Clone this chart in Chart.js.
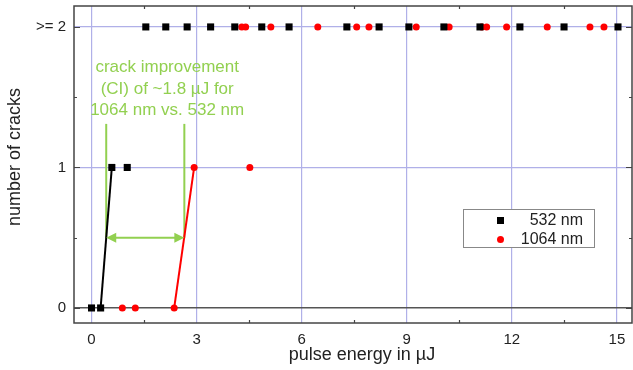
<!DOCTYPE html>
<html>
<head>
<meta charset="utf-8">
<script src="https://cdn.jsdelivr.net/npm/chart.js@4.4.0/dist/chart.umd.min.js"></script>
<style>
  html, body { margin: 0; padding: 0; background: #fff; }
  #wrap { width: 633px; height: 370px; }
</style>
</head>
<body>
<div id="wrap"><canvas id="c" width="633" height="370"></canvas></div>
<script>
// measured points, pulse energy (µJ) vs. number of cracks (2 = ">= 2")
var energy532 = [0.00, 0.26, 0.58, 1.02, 1.55, 2.12, 2.73, 3.40, 4.09, 4.86, 5.64, 7.29, 8.21, 9.06, 10.06, 11.09, 12.23, 13.49, 15.03];
var cracks532 = [0, 0, 1, 1, 2, 2, 2, 2, 2, 2, 2, 2, 2, 2, 2, 2, 2, 2, 2];
var energy1064 = [0.88, 1.25, 2.36, 2.93, 4.52, 4.29, 4.40, 5.12, 6.46, 7.57, 7.92, 9.27, 10.21, 11.14, 11.28, 11.85, 13.01, 14.23, 14.63];
var cracks1064 = [0, 0, 0, 1, 1, 2, 2, 2, 2, 2, 2, 2, 2, 2, 2, 2, 2, 2, 2];

// threshold lines (0 -> 1 crack)
var fit532X = [0.26, 0.58];
var fit1064X = [2.36, 2.93];
var fitY = [0, 1];

// crack improvement annotation
var ciX = [0.42, 2.65];
var ciY = [0.5, 1.31];
var ciText = ['crack improvement', '(CI) of ~1.8 µJ for', '1064 nm vs. 532 nm'];
var ciTextX = 2.16;
var ciTextY = [1.715, 1.559, 1.409];

var xTicks = [0, 3, 6, 9, 12, 15];
var xMinorTicks = [1.5, 4.5, 7.5, 10.5, 13.5];
var yTicks = [0, 1, 2];
var yTickLabels = ['0', '1', '>= 2'];
var yMinorTicks = [0.5, 1.5];

var FONT = "'Liberation Sans', Arial, sans-serif";
var GREEN = '#92d050';
var GRID = '#b0b0e8';

function pts(xs, ys) {
	return xs.map(function(x, i) { return {x: x, y: ys[i]}; });
}

var framePlugin = {
	id: 'frame',
	beforeDatasetsDraw: function(chart) {
		var ctx = chart.ctx, xs = chart.scales.x, ys = chart.scales.y;
		ctx.save();
		// green threshold markers
		ctx.strokeStyle = GREEN;
		ctx.lineWidth = 2;
		ciX.forEach(function(v) {
			var px = xs.getPixelForValue(v);
			ctx.beginPath();
			ctx.moveTo(px, ys.getPixelForValue(ciY[0]));
			ctx.lineTo(px, ys.getPixelForValue(ciY[1]));
			ctx.stroke();
		});
		ctx.restore();
	},
	afterDatasetsDraw: function(chart) {
		var ctx = chart.ctx, xs = chart.scales.x, ys = chart.scales.y;
		var a = chart.chartArea;
		ctx.save();

		// double arrow
		var x1 = xs.getPixelForValue(ciX[0]), x2 = xs.getPixelForValue(ciX[1]);
		var ay = ys.getPixelForValue(ciY[0]);
		ctx.strokeStyle = GREEN;
		ctx.fillStyle = GREEN;
		ctx.lineWidth = 2;
		ctx.beginPath();
		ctx.moveTo(x1 + 6, ay);
		ctx.lineTo(x2 - 6, ay);
		ctx.stroke();
		ctx.beginPath();
		ctx.moveTo(x1, ay); ctx.lineTo(x1 + 10, ay - 5); ctx.lineTo(x1 + 10, ay + 5); ctx.closePath();
		ctx.moveTo(x2, ay); ctx.lineTo(x2 - 10, ay - 5); ctx.lineTo(x2 - 10, ay + 5); ctx.closePath();
		ctx.fill();

		// annotation text
		ctx.font = '17px ' + FONT;
		ctx.textAlign = 'center';
		ctx.textBaseline = 'middle';
		ciText.forEach(function(t, i) {
			ctx.fillText(t, xs.getPixelForValue(ciTextX), ys.getPixelForValue(ciTextY[i]));
		});

		// frame + inward ticks
		ctx.strokeStyle = '#444';
		ctx.lineWidth = 1.5;
		ctx.strokeRect(a.left, a.top, a.right - a.left, a.bottom - a.top);
		ctx.lineWidth = 1.2;
		ctx.beginPath();
		xMinorTicks.forEach(function(v) {
			var px = Math.round(xs.getPixelForValue(v)) + 0.5;
			ctx.moveTo(px, a.bottom); ctx.lineTo(px, a.bottom - 3);
			ctx.moveTo(px, a.top); ctx.lineTo(px, a.top + 3);
		});
		yMinorTicks.forEach(function(v) {
			var py = Math.round(ys.getPixelForValue(v)) + 0.5;
			ctx.moveTo(a.left, py); ctx.lineTo(a.left + 3, py);
			ctx.moveTo(a.right, py); ctx.lineTo(a.right - 3, py);
		});
		yTicks.forEach(function(v) {
			var py = Math.round(ys.getPixelForValue(v)) + 0.5;
			ctx.moveTo(a.left, py); ctx.lineTo(a.left + 6, py);
			ctx.moveTo(a.right, py); ctx.lineTo(a.right - 6, py);
		});
		ctx.stroke();

		// axis titles
		ctx.fillStyle = '#222';
		ctx.font = '18px ' + FONT;
		ctx.textAlign = 'center';
		ctx.textBaseline = 'middle';
		ctx.fillText('pulse energy in µJ', 362, 355);
		ctx.save();
		ctx.translate(15, 157);
		ctx.rotate(-Math.PI / 2);
		ctx.fillText('number of cracks', 0, 0);
		ctx.restore();

		// legend box
		var lx = 463, ly = 209, lw = 131, lh = 38;
		ctx.fillStyle = '#fff';
		ctx.fillRect(lx, ly, lw, lh);
		ctx.strokeStyle = '#888';
		ctx.lineWidth = 1;
		ctx.strokeRect(lx + 0.5, ly + 0.5, lw, lh);
		ctx.fillStyle = '#000';
		ctx.fillRect(497, 217, 7, 7);
		ctx.fillStyle = '#f00';
		ctx.beginPath();
		ctx.arc(500.5, 239.5, 3.5, 0, Math.PI * 2);
		ctx.fill();
		ctx.fillStyle = '#222';
		ctx.font = '16px ' + FONT;
		ctx.textAlign = 'right';
		ctx.fillText('532 nm', 583, 221);
		ctx.fillText('1064 nm', 583, 240);

		ctx.restore();
	}
};

var chart = new Chart(document.getElementById('c'), {
	type: 'scatter',
	data: {
		datasets: [{
			label: 'fit 532',
			data: pts(fit532X, fitY),
			showLine: true,
			borderColor: '#000',
			borderWidth: 2,
			pointRadius: 0
		}, {
			label: 'fit 1064',
			data: pts(fit1064X, fitY),
			showLine: true,
			borderColor: '#f00',
			borderWidth: 2,
			pointRadius: 0
		}, {
			label: '532 nm',
			data: pts(energy532, cracks532),
			pointStyle: 'rect',
			pointRadius: 5,
			backgroundColor: '#000',
			borderColor: '#000',
			borderWidth: 0
		}, {
			label: '1064 nm',
			data: pts(energy1064, cracks1064),
			pointStyle: 'circle',
			pointRadius: 3.5,
			backgroundColor: '#f00',
			borderColor: '#f00',
			borderWidth: 0
		}]
	},
	options: {
		responsive: false,
		animation: false,
		events: [],
		layout: { autoPadding: false, padding: { top: 6, right: 1, left: 0, bottom: 0 } },
		plugins: {
			legend: { display: false },
			tooltip: { enabled: false }
		},
		scales: {
			x: {
				type: 'linear',
				min: -0.5,
				max: 15.43,
				afterFit: function(s) {
					s.height = 47;
					s.paddingLeft = 0;
					s.paddingRight = 0;
				},
				afterBuildTicks: function(s) {
					s.ticks = xTicks.map(function(v) { return {value: v}; });
				},
				ticks: {
					color: '#222',
					font: { family: FONT, size: 15 },
					padding: 8,
					maxRotation: 0
				},
				grid: { color: GRID, lineWidth: 1.2, drawTicks: false },
				border: { display: false }
			},
			y: {
				type: 'linear',
				min: -0.107,
				max: 2.149,
				afterFit: function(s) {
					s.width = 74;
					s.paddingTop = 0;
					s.paddingBottom = 0;
				},
				afterBuildTicks: function(s) {
					s.ticks = yTicks.map(function(v) { return {value: v}; });
				},
				ticks: {
					color: '#222',
					font: { family: FONT, size: 15 },
					padding: 8,
					callback: function(v) { return yTickLabels[yTicks.indexOf(v)]; }
				},
				grid: {
					color: function(c) { return c.tick && c.tick.value === 0 ? '#555' : GRID; },
					lineWidth: function(c) { return c.tick && c.tick.value === 0 ? 1.5 : 1.2; },
					drawTicks: false
				},
				border: { display: false }
			}
		}
	},
	plugins: [framePlugin]
});
</script>
</body>
</html>
